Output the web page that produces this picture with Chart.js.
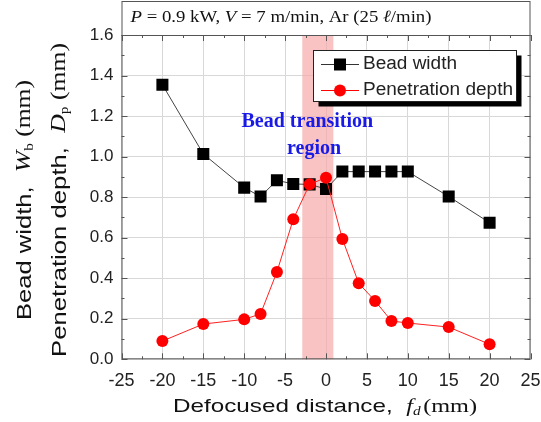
<!DOCTYPE html>
<html>
<head>
<meta charset="utf-8">
<script src="https://cdn.jsdelivr.net/npm/chart.js@4/dist/chart.umd.min.js"></script>
<style>
html,body{margin:0;padding:0;background:#fff;}
#wrap{width:541px;height:422px;}
</style>
</head>
<body>
<div id="wrap"><canvas id="c" width="541" height="422"></canvas></div>
<script>
// Data
const defocus = [-20, -15, -10, -8, -6, -4, -2, 0, 2, 4, 6, 8, 10, 15, 20];
const beadWidth = [1.355, 1.013, 0.847, 0.803, 0.883, 0.865, 0.863, 0.84, 0.926, 0.926, 0.926, 0.926, 0.926, 0.803, 0.674];
const penetrationDepth = [0.09, 0.174, 0.197, 0.224, 0.431, 0.691, 0.864, 0.896, 0.594, 0.375, 0.288, 0.189, 0.179, 0.159, 0.074];
const xTicks = [-25, -20, -15, -10, -5, 0, 5, 10, 15, 20, 25];
const yTicks = [0.0, 0.2, 0.4, 0.6, 0.8, 1.0, 1.2, 1.4, 1.6];
const transitionRegion = [-2.9, 0.9];
const seriesNames = ['Bead width', 'Penetration depth'];

const toPts = (xs, ys) => xs.map((x, i) => ({x: x, y: ys[i]}));

const SANS = '"Liberation Sans", Arial, sans-serif';
const SERIF = '"Liberation Serif", "Times New Roman", serif';

// draw a run of text segments starting at (x,y), horizontally scaled to targetW
function drawRun(ctx, parts, x, y, targetW) {
  let w = 0;
  parts.forEach(p => { ctx.font = p[0]; w += ctx.measureText(p[1]).width + (p[3] || 0); });
  const sx = targetW ? targetW / w : 1;
  ctx.save();
  ctx.translate(x, y);
  ctx.scale(sx, 1);
  let px = 0;
  parts.forEach(p => {
    ctx.font = p[0];
    ctx.fillText(p[1], px, p[2] || 0);
    px += ctx.measureText(p[1]).width + (p[3] || 0);
  });
  ctx.restore();
}

const decor = {
  id: 'decor',
  beforeDatasetsDraw(chart) {
    const {ctx, chartArea: a, scales: {x}} = chart;
    ctx.save();
    ctx.fillStyle = 'rgba(246,170,170,0.7)';
    const x0 = x.getPixelForValue(transitionRegion[0]);
    const x1 = x.getPixelForValue(transitionRegion[1]);
    ctx.fillRect(x0, a.top, x1 - x0, a.bottom - a.top);
    ctx.restore();
  },
  afterDatasetsDraw(chart) {
    const {ctx, chartArea: a, scales: {x, y}} = chart;
    ctx.save();
    // frame
    ctx.strokeStyle = '#555';
    ctx.lineWidth = 1;
    ctx.strokeRect(a.left + 0.5, a.top + 0.5, a.right - a.left - 1, a.bottom - a.top - 1);
    // title box
    ctx.strokeRect(a.left + 0.5, 1.5, a.right - a.left - 1, a.top - 1);
    // ticks inward
    ctx.beginPath();
    for (let v = -25; v <= 25.001; v += 2.5) {
      const px = Math.round(x.getPixelForValue(v)) + 0.5;
      const major = Math.abs(v % 5) < 0.001;
      const len = major ? 6 : 3;
      ctx.moveTo(px, a.bottom); ctx.lineTo(px, a.bottom - len);
      ctx.moveTo(px, a.top); ctx.lineTo(px, a.top + len);
    }
    for (let k = 0; k <= 16; k++) {
      const v = k / 10;
      const py = Math.round(y.getPixelForValue(v)) + 0.5;
      const len = (k % 2 === 0) ? 6 : 3;
      ctx.moveTo(a.left, py); ctx.lineTo(a.left + len, py);
      ctx.moveTo(a.right, py); ctx.lineTo(a.right - len, py);
    }
    ctx.stroke();

    ctx.textBaseline = 'middle';
    ctx.textAlign = 'left';

    // title text
    ctx.fillStyle = '#111';
    drawRun(ctx, [
      ['italic 17px ' + SERIF, 'P'], ['17px ' + SERIF, ' = 0.9 kW, '], ['italic 17px ' + SERIF, 'V'],
      ['17px ' + SERIF, ' = 7 m/min, Ar (25 '], ['italic 17px ' + SERIF, 'ℓ'], ['17px ' + SERIF, '/min)']
    ], 130.5, 18, 301);

    // blue annotation
    ctx.fillStyle = '#1a1ae6';
    ctx.font = 'bold 20px ' + SERIF;
    ctx.fillText('Bead transition', 241.5, 122);
    ctx.fillText('region', 287, 149);

    // legend
    const lx = 313.5, ly = 50.5, lw = 203, lh = 51;
    ctx.fillStyle = '#000';
    ctx.fillRect(lx + 5, ly + 5, lw, lh);
    ctx.fillStyle = '#fff';
    ctx.fillRect(lx, ly, lw, lh);
    ctx.strokeStyle = '#222';
    ctx.strokeRect(lx, ly, lw, lh);
    const rows = [
      {y: 64.5, color: '#333', name: seriesNames[0], sq: true, w: 94},
      {y: 90.5, color: '#ff0000', name: seriesNames[1], sq: false, w: 150}
    ];
    rows.forEach(r => {
      ctx.strokeStyle = r.color;
      ctx.lineWidth = 1;
      ctx.beginPath(); ctx.moveTo(321, r.y); ctx.lineTo(359, r.y); ctx.stroke();
      if (r.sq) { ctx.fillStyle = '#000'; ctx.fillRect(334, r.y - 6, 12, 12); }
      else { ctx.fillStyle = '#ff0000'; ctx.beginPath(); ctx.arc(340, r.y, 6, 0, Math.PI * 2); ctx.fill(); }
      ctx.fillStyle = '#222';
      drawRun(ctx, [['18px ' + SANS, r.name]], 363, r.y, r.w);
    });

    // x axis title
    ctx.fillStyle = '#111';
    drawRun(ctx, [
      ['19px ' + SANS, 'Defocused distance,  '],
      ['italic 19px ' + SERIF, 'f'],
      ['italic 12px ' + SERIF, 'd', 5, 2],
      ['19px ' + SERIF, '(mm)']
    ], 173, 407, 304);

    // y axis titles (rotated)
    function vlabel(cx, startY, parts, len) {
      ctx.save();
      ctx.translate(cx, startY);
      ctx.rotate(-Math.PI / 2);
      drawRun(ctx, parts, 0, 0, len);
      ctx.restore();
    }
    ctx.fillStyle = '#111';
    vlabel(25, 320, [
      ['20px ' + SANS, 'Bead width,  '],
      ['italic 20px ' + SERIF, 'W'],
      ['12px ' + SERIF, 'b', 5],
      ['20px ' + SERIF, ' (mm)']
    ], 240);
    vlabel(60, 357, [
      ['20px ' + SANS, 'Penetration depth,  '],
      ['italic 20px ' + SERIF, 'D'],
      ['12px ' + SERIF, 'p', 5],
      ['20px ' + SERIF, ' (mm)']
    ], 314);
    ctx.restore();
  }
};

new Chart(document.getElementById('c'), {
  type: 'line',
  data: {
    datasets: [
      {
        label: seriesNames[0],
        data: toPts(defocus, beadWidth),
        borderColor: '#444',
        borderWidth: 1,
        backgroundColor: '#000',
        pointBackgroundColor: '#000',
        pointBorderColor: '#000',
        pointStyle: 'rect',
        pointRadius: 8.5,
        pointBorderWidth: 0,
        order: 1
      },
      {
        label: seriesNames[1],
        data: toPts(defocus, penetrationDepth),
        borderColor: '#ff2020',
        borderWidth: 1,
        backgroundColor: '#ff0000',
        pointBackgroundColor: '#ff0000',
        pointBorderColor: '#ff0000',
        pointStyle: 'circle',
        pointRadius: 6,
        pointBorderWidth: 0,
        order: 0
      }
    ]
  },
  options: {
    responsive: false,
    animation: false,
    devicePixelRatio: 1,
    layout: {padding: {top: 35, right: 10.5, left: 0, bottom: 0}},
    plugins: {legend: {display: false}, tooltip: {enabled: false}, title: {display: false}},
    scales: {
      x: {
        type: 'linear', min: -25, max: 25,
        afterBuildTicks: s => { s.ticks = xTicks.map(v => ({value: v})); },
        ticks: {color: '#222', font: {family: SANS, size: 18}, padding: 11, maxRotation: 0, callback: v => String(v)},
        grid: {color: '#d8d8d8', drawTicks: false},
        border: {display: false},
        afterFit: s => { s.height = 422 - 359.3; s.paddingLeft = 0; s.paddingRight = 0; }
      },
      y: {
        type: 'linear', min: 0, max: 1.6,
        afterBuildTicks: s => { s.ticks = yTicks.map(v => ({value: v})); },
        ticks: {color: '#222', font: {family: SANS, size: 17}, padding: 8, callback: v => Number(v).toFixed(1)},
        grid: {color: '#d8d8d8', drawTicks: false},
        border: {display: false},
        afterFit: s => { s.width = 121.5; s.paddingTop = 0; s.paddingBottom = 0; }
      }
    }
  },
  plugins: [decor]
});
</script>
</body>
</html>
